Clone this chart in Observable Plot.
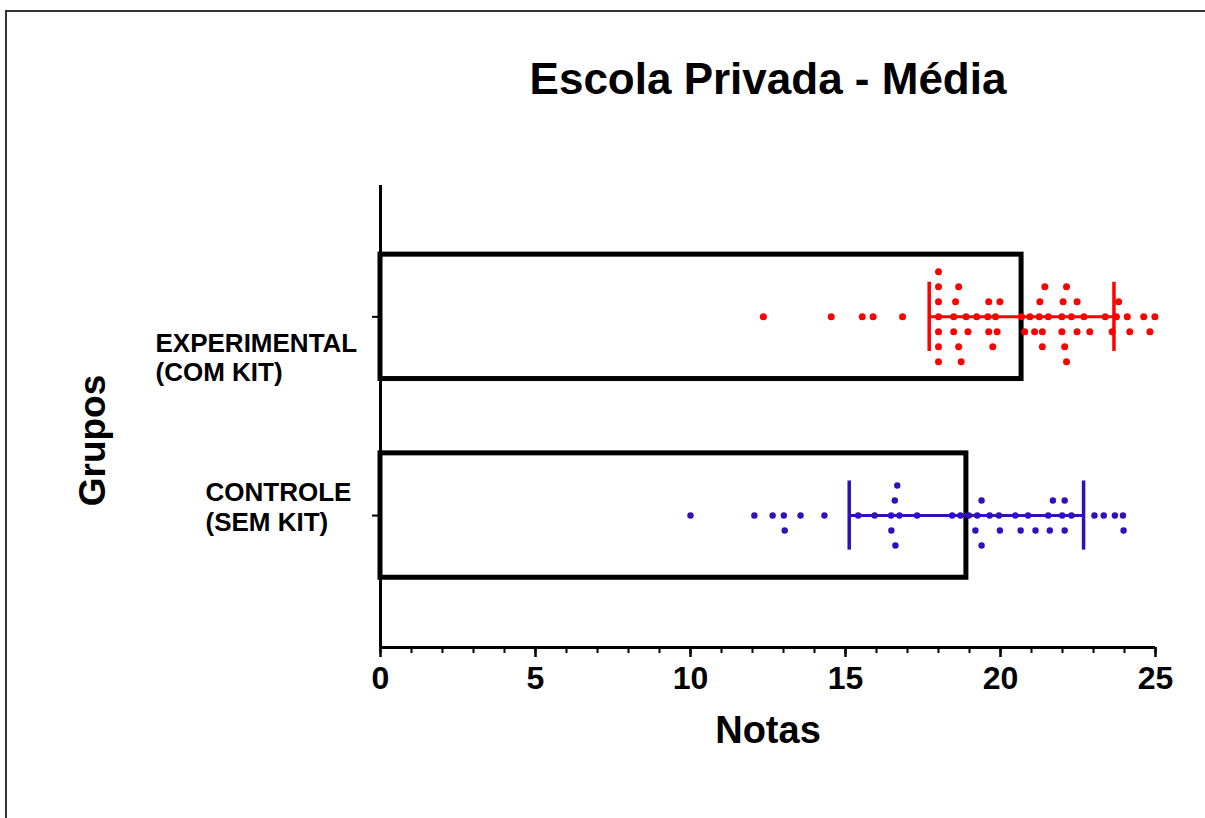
<!DOCTYPE html>
<html><head><meta charset="utf-8">
<script src="https://cdn.jsdelivr.net/npm/d3@7"></script>
<script src="https://cdn.jsdelivr.net/npm/@observablehq/plot@0.6"></script>
<style>
body{margin:0;background:#fff;}
#wrap{position:relative;width:1205px;height:818px;overflow:hidden;background:#fff;}
#border{position:absolute;left:5px;top:10px;width:1300px;height:900px;border-top:2px solid #333;border-left:2px solid #333;}
#chart{position:absolute;left:0;top:0;}
</style></head><body>
<div id="wrap"><div id="chart"></div><div id="border"></div></div>
<script>
// ---- data ----
const groups = ["EXPERIMENTAL", "CONTROLE"];
const groupSub = ["(COM KIT)", "(SEM KIT)"];
const means = [20.68, 18.9];
const sds = [2.98, 3.78];
const experimental = [
  12.35, 14.54, 15.54, 15.89, 16.84,
  18.0, 18.0, 18.0, 18.0, 18.0, 18.0, 18.0,
  18.49, 18.73, 18.65, 18.55, 18.89, 19.23, 18.65, 18.95, 18.49,
  19.62, 19.98, 19.62, 19.89, 19.75, 19.59, 19.84,
  20.68, 20.78, 21.10, 21.35, 20.95, 21.25, 21.54, 21.35, 21.27, 21.43,
  22.07, 21.98, 22.13, 22.47, 22.02, 22.29, 22.69, 22.13, 22.47, 22.88, 21.98,
  23.38, 23.74, 23.60, 23.81,
  24.17, 24.09, 24.82, 24.62, 24.98
];
const controle = [
  10.0, 12.06, 12.65, 13.04, 13.01, 13.55, 14.32,
  15.41, 15.94, 16.47, 16.74, 16.59, 16.61, 16.67, 16.48, 17.31,
  18.44, 18.71, 18.98, 19.19, 19.39, 19.39, 19.25, 19.65, 19.98, 19.95, 20.48, 20.65, 20.89, 21.13,
  21.59, 22.07, 21.69, 22.07, 21.54, 21.99, 22.29,
  23.03, 23.33, 23.69, 23.97, 23.95
];
const xTicks = [0, 5, 10, 15, 20, 25];
const xTitle = "Notas";
const yTitle = "Grupos";
const title = "Escola Privada - Média";

// ---- layout / style ----
const W = 1205, H = 818, mL = 380, mR = 50, mT = 185, mB = 171;
const xDom = [0, 25];
const yDom = [-0.664, 1.661];
const pxX = (W - mL - mR) / (xDom[1] - xDom[0]);
const pxY = (H - mT - mB) / (yDom[1] - yDom[0]);
const half = 0.313, capHalf = 0.174;
const colors = ["#ff0000", "#3010b8"];
const rowPx = 15, gapPx = 7.5;

const summary = groups.map((g, i) => ({
  g, sub: groupSub[i], mean: means[i], sd: sds[i], pos: groups.length - 1 - i, color: colors[i]
}));

function swarm(values, pos) {
  const sorted = values.slice().sort((a, b) => a - b);
  const last = new Map();
  const out = [];
  for (const v of sorted) {
    for (let k = 0; ; k++) {
      const row = k === 0 ? 0 : (k % 2 ? -Math.ceil(k / 2) : Math.ceil(k / 2));
      const l = last.get(row);
      if (l === undefined || (v - l) * pxX >= gapPx) {
        last.set(row, v);
        out.push({x: v, y: pos + row * rowPx / pxY});
        break;
      }
    }
  }
  return out;
}
const dotsE = swarm(experimental, summary[0].pos);
const dotsC = swarm(controle, summary[1].pos);
const caps = summary.flatMap(d => [
  {x: d.mean - d.sd, pos: d.pos, color: d.color},
  {x: d.mean + d.sd, pos: d.pos, color: d.color}
]);

const font = "'Liberation Sans', Arial, sans-serif";
const chart = Plot.plot({
  width: W, height: H,
  marginLeft: mL, marginRight: mR, marginTop: mT, marginBottom: mB,
  x: {domain: xDom},
  y: {domain: yDom},
  color: {type: "identity"},
  style: {fontFamily: font, background: "transparent", color: "black", overflow: "visible"},
  marks: [
    Plot.rect(summary, {x1: d => 0, x2: "mean", y1: d => d.pos - half, y2: d => d.pos + half,
      fill: "white", stroke: "black", strokeWidth: 5}),
    Plot.ruleY(summary, {y: "pos", x1: d => d.mean - d.sd, x2: d => d.mean + d.sd, stroke: "color", strokeWidth: 3}),
    Plot.ruleX(caps, {x: "x", y1: d => d.pos - capHalf, y2: d => d.pos + capHalf, stroke: "color", strokeWidth: 3.5}),
    Plot.dot(dotsE, {x: "x", y: "y", r: 3.5, fill: colors[0], stroke: "none"}),
    Plot.dot(dotsC, {x: "x", y: "y", r: 3.2, fill: colors[1], stroke: "none"}),
    Plot.ruleX([0], {strokeWidth: 3, stroke: "black"}),
    Plot.ruleY([yDom[0]], {strokeWidth: 3, stroke: "black"}),
    Plot.axisX({ticks: d3.range(0, 26), tickSize: 6, tickFormat: () => "", strokeWidth: 2, label: null}),
    Plot.axisX({ticks: xTicks, tickSize: 10, tickPadding: 9, fontSize: 32, fontWeight: "bold",
      strokeWidth: 2.5, label: null}),
    Plot.axisY({ticks: [0, 1], tickSize: 8, tickFormat: () => "", strokeWidth: 2, label: null}),
    Plot.text([summary[0]], {frameAnchor: "left", y: "pos", text: d => d.g + "\n" + d.sub,
      textAnchor: "start", lineAnchor: "top", dx: -225, dy: 14, fontSize: 26, fontWeight: "bold", lineHeight: 1.12}),
    Plot.text([summary[1]], {frameAnchor: "left", y: "pos", text: d => d.g + "\n" + d.sub,
      textAnchor: "start", lineAnchor: "top", dx: -175, dy: -35.5, fontSize: 26, fontWeight: "bold", lineHeight: 1.15}),
    Plot.text([title], {frameAnchor: "top", lineAnchor: "bottom", dy: -92, fontSize: 44, fontWeight: "bold"}),
    Plot.text([xTitle], {frameAnchor: "bottom", lineAnchor: "bottom", dy: 95, fontSize: 38, fontWeight: "bold"}),
    Plot.text([yTitle], {frameAnchor: "left", rotate: -90, textAnchor: "middle", lineAnchor: "bottom",
      dx: -276, dy: 24, fontSize: 37, fontWeight: "bold"})
  ]
});
document.getElementById("chart").appendChild(chart);
</script>
</body></html>
